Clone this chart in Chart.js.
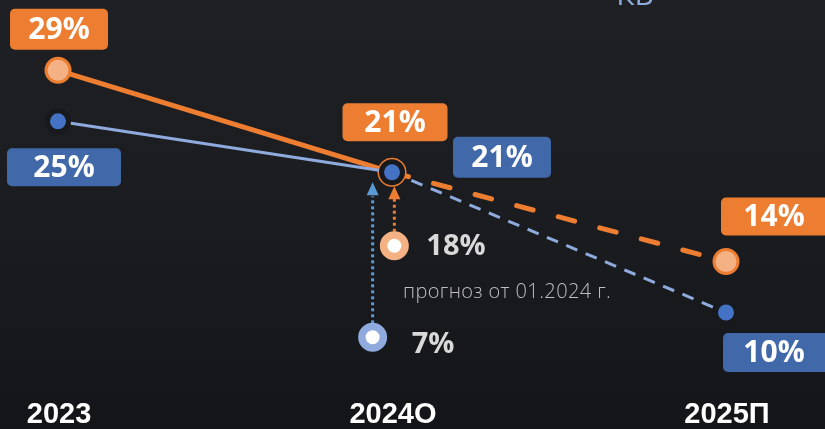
<!DOCTYPE html>
<html lang="ru">
<head>
<meta charset="UTF-8">
<title>Прогноз</title>
<style>
  html, body { margin: 0; padding: 0; }
  body { background: linear-gradient(#1f2024, #1b1c20 50%, #141518); width: 825px; height: 429px; overflow: hidden; }
  canvas { display: block; }
</style>
</head>
<body>
<canvas id="chart" width="825" height="429"></canvas>
<script src="https://cdn.jsdelivr.net/npm/chart.js"></script>
<script>
// данные
const years = ['2023', '2024О', '2025П'];
const orangeValues = [29, 21, 14];
const blueValues = [25, 21, 10];
// прогноз от 01.2024 г. (значения и положение по оси лет)
const noteValues = [18, 7];
const noteX = [1.007, 0.942];
const noteCaption = 'прогноз от 01.2024 г.';
const topTitle = 'КВ';

// цвета
const ORANGE = '#ed7d31', ORANGE_LIGHT = '#f4b183';
const BLUE = '#4472c4', BLUE_LINE = '#8faadc', BLUE_BOX = '#4169aa', BLUE_ARROW = '#5b9bd5';
const RING = '#18191c';

// смещения подписей (px) от точки: [dx, dy, w, h]
const orangeBoxes = [[1, -41, 98, 41], [3, -50, 105, 38], [49, -45, 108, 38]];
const blueBoxes = [[6, 46, 114, 38], [110, -15, 98, 41], [50, 40, 106, 39]];

function roundRect(ctx, x, y, w, h, r) {
    ctx.beginPath();
    ctx.moveTo(x + r, y);
    ctx.arcTo(x + w, y, x + w, y + h, r);
    ctx.arcTo(x + w, y + h, x, y + h, r);
    ctx.arcTo(x, y + h, x, y, r);
    ctx.arcTo(x, y, x + w, y, r);
    ctx.closePath();
}

const decor = {
    id: 'decor',
    beforeDatasetsDraw(chart) {
        const ctx = chart.ctx;
        const pOr = chart.getDatasetMeta(1).data[1];
        const notes = chart.getDatasetMeta(2).data;
        ctx.save();
        ctx.lineWidth = 3;
        ctx.setLineDash([3, 3]);
        // оранжевая пунктирная стрелка
        ctx.strokeStyle = ORANGE;
        ctx.beginPath();
        ctx.moveTo(notes[0].x, notes[0].y - 14);
        ctx.lineTo(notes[0].x, pOr.y + 26);
        ctx.stroke();
        // синяя пунктирная стрелка
        ctx.strokeStyle = BLUE_ARROW;
        ctx.beginPath();
        ctx.moveTo(notes[1].x, notes[1].y - 14);
        ctx.lineTo(notes[1].x, pOr.y + 24);
        ctx.stroke();
        ctx.restore();
    },
    afterDatasetsDraw(chart) {
        const ctx = chart.ctx;
        const xs = chart.scales.x;
        const pOr = chart.getDatasetMeta(1).data[1];
        const notes = chart.getDatasetMeta(2).data;
        ctx.save();
        // наконечники стрелок
        const head = (x, tip, color) => {
            ctx.fillStyle = color;
            ctx.beginPath();
            ctx.moveTo(x, tip);
            ctx.lineTo(x + 6, tip + 13);
            ctx.lineTo(x - 6, tip + 13);
            ctx.closePath();
            ctx.fill();
        };
        head(notes[0].x, pOr.y + 14, ORANGE);
        head(notes[1].x, pOr.y + 10, BLUE_ARROW);

        // подписи значений в плашках
        ctx.font = '700 30px "Open Sans"';
        ctx.textAlign = 'center';
        ctx.textBaseline = 'middle';
        const boxes = (metaIdx, values, offs, color) => {
            chart.getDatasetMeta(metaIdx).data.forEach((p, i) => {
                const [dx, dy, w, h] = offs[i];
                const cx = p.x + dx, cy = p.y + dy;
                ctx.fillStyle = color;
                roundRect(ctx, cx - w / 2, cy - h / 2, w, h, 5);
                ctx.fill();
                ctx.fillStyle = '#ffffff';
                const tx = Math.min(cx, 774);
                ctx.fillText(values[i] + '%', tx, cy + 1);
            });
        };
        boxes(1, orangeValues, orangeBoxes, ORANGE);
        boxes(0, blueValues, blueBoxes, BLUE_BOX);

        // подписи прогноза
        ctx.textAlign = 'left';
        ctx.fillStyle = '#d9d9d9';
        ctx.font = '700 29px "Open Sans"';
        ctx.fillText(noteValues[0] + '%', notes[0].x + 32, notes[0].y + 1);
        ctx.fillText(noteValues[1] + '%', notes[1].x + 39, notes[1].y + 7);
        ctx.fillStyle = '#bfbfbf';
        ctx.font = '300 20px "Open Sans"';
        ctx.letterSpacing = '0.4px';
        ctx.textBaseline = 'alphabetic';
        ctx.fillText(noteCaption, xs.getPixelForValue(1) + 11, 298);
        ctx.letterSpacing = '0px';

        // годы
        ctx.fillStyle = '#ffffff';
        ctx.textAlign = 'center';
        ctx.font = 'bold 29px "Liberation Sans"';
        years.forEach((t, i) => ctx.fillText(t, xs.getPixelForValue(i) + 1, 423));

        // заголовок сверху (обрезан)
        ctx.fillStyle = BLUE_LINE;
        ctx.font = '30px "Open Sans"';
        ctx.fillText(topTitle, 635, 5);
        ctx.restore();
    }
};

const dashedAfterFirst = (dash) => (c) => c.p0DataIndex >= 1 ? dash : undefined;

new Chart(document.getElementById('chart'), {
    type: 'line',
    data: {
        datasets: [
            {
                label: 'blue',
                data: blueValues.map((v, i) => ({ x: i, y: v })),
                order: 0,
                borderColor: BLUE_LINE,
                borderWidth: 3,
                pointRadius: 10.5,
                pointBorderWidth: 5,
                pointBackgroundColor: BLUE,
                pointBorderColor: RING,
                segment: { borderDash: dashedAfterFirst([12, 9]) }
            },
            {
                label: 'orange',
                data: orangeValues.map((v, i) => ({ x: i, y: v })),
                order: 1,
                borderColor: ORANGE,
                borderWidth: 5,
                borderCapStyle: 'round',
                pointRadius: [12, 13, 12],
                pointBorderWidth: 3,
                pointBackgroundColor: ORANGE_LIGHT,
                pointBorderColor: ORANGE,
                segment: { borderDash: dashedAfterFirst([17, 26]) }
            },
            {
                label: 'note',
                data: noteValues.map((v, i) => ({ x: noteX[i], y: v })),
                yAxisID: 'yNote',
                order: 2,
                showLine: false,
                pointRadius: 10.75,
                pointBorderWidth: 7.5,
                pointBackgroundColor: '#ffffff',
                pointBorderColor: [ORANGE_LIGHT, BLUE_LINE]
            }
        ]
    },
    options: {
        responsive: false,
        animation: false,
        devicePixelRatio: 1,
        layout: { padding: 0, autoPadding: false },
        plugins: { legend: { display: false }, tooltip: { enabled: false } },
        scales: {
            x: { type: 'linear', display: false, min: -0.1737, max: 2.2964 },
            y: { display: false, min: 0.863, max: 34.516 },
            yNote: { display: false, min: -4.01, max: 47.51 }
        }
    },
    plugins: [decor]
});
</script>
</body>
</html>
